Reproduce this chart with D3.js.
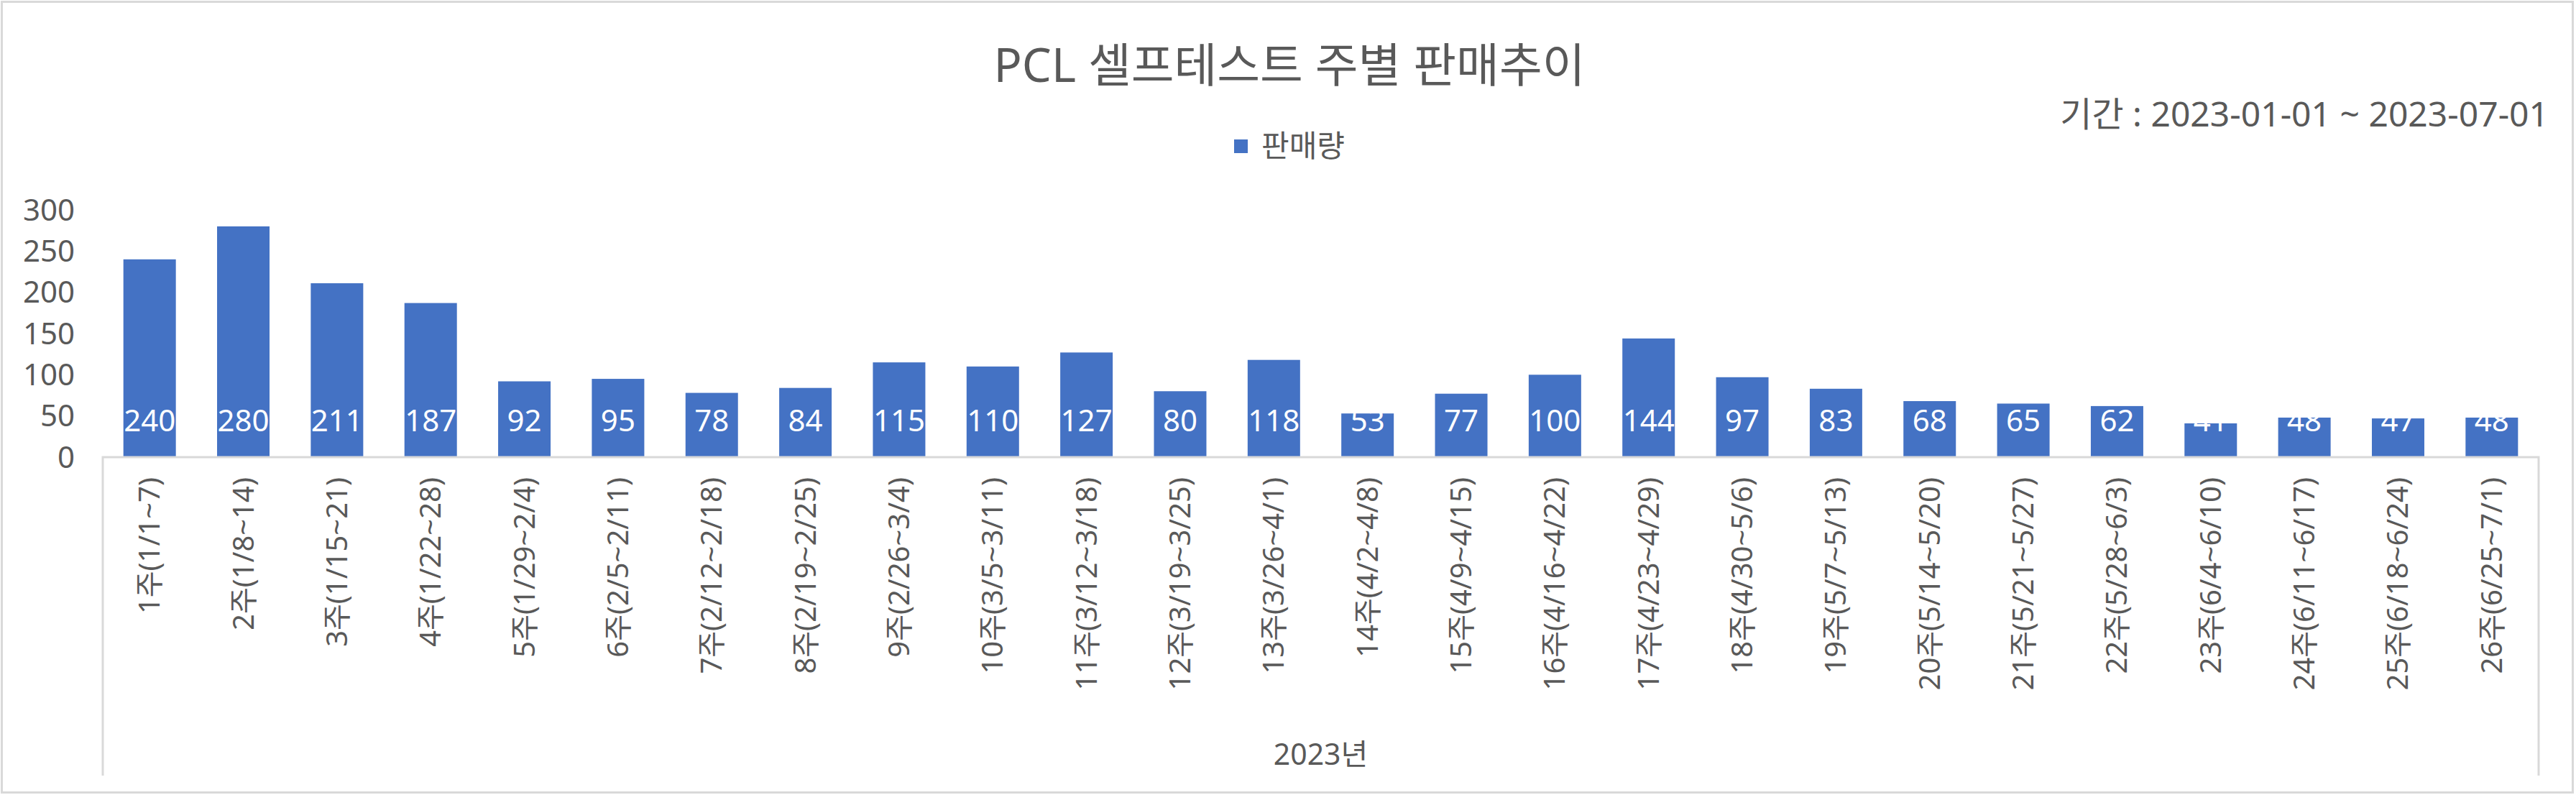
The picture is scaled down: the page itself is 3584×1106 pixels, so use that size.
<!DOCTYPE html>
<meta charset="utf-8">
<style>
  body { margin: 0; background: #fff; }
  text { font-family: "Noto Sans", "Noto Sans CJK KR", sans-serif; fill: #595959; }
</style>
<svg width="3584" height="1106"></svg>
<script src="https://d3js.org/d3.v7.min.js"></script>
<script>

    var weeks = ["1주(1/1~7)", "2주(1/8~14)", "3주(1/15~21)", "4주(1/22~28)", "5주(1/29~2/4)",
        "6주(2/5~2/11)", "7주(2/12~2/18)", "8주(2/19~2/25)", "9주(2/26~3/4)", "10주(3/5~3/11)",
        "11주(3/12~3/18)", "12주(3/19~3/25)", "13주(3/26~4/1)", "14주(4/2~4/8)", "15주(4/9~4/15)",
        "16주(4/16~4/22)", "17주(4/23~4/29)", "18주(4/30~5/6)", "19주(5/7~5/13)", "20주(5/14~5/20)",
        "21주(5/21~5/27)", "22주(5/28~6/3)", "23주(6/4~6/10)", "24주(6/11~6/17)", "25주(6/18~6/24)",
        "26주(6/25~7/1)"];
    var sales = [240, 280, 211, 187, 92, 95, 78, 84, 115, 110, 127, 80, 118, 53, 77, 100, 144, 97, 83,
        68, 65, 62, 41, 48, 47, 48];
    var yTicks = [0, 50, 100, 150, 200, 250, 300];
    var yearLabel = "2023년";
    var seriesName = "판매량";
    var title = "PCL 셀프테스트 주별 판매추이";
    var period = "기간 : 2023-01-01 ~ 2023-07-01";

    var svg = d3.select("svg"),
        plotLeft = 143, plotRight = 3532,
        plotTop = 292, plotBase = 636;

    // chart border
    svg.append("rect")
        .attr("x", 2.5).attr("y", 2.5)
        .attr("width", 3577).attr("height", 1100)
        .attr("fill", "#fff").attr("stroke", "#d9d9d9").attr("stroke-width", 3);

    var x = d3.scaleBand().domain(weeks).range([plotLeft, plotRight]).paddingInner(0.44).paddingOuter(0.22);
    var y = d3.scaleLinear().domain([0, 300]).range([plotBase, plotTop]);

    // title and subtitle
    svg.append("text").attr("x", 1794).attr("y", 114)
        .attr("text-anchor", "middle").style("font-size", "65px").text(title);
    svg.append("text").attr("x", 3546).attr("y", 176)
        .attr("text-anchor", "end").style("font-size", "48px").text(period);

    // legend
    svg.append("rect").attr("x", 1717).attr("y", 194).attr("width", 19).attr("height", 19).attr("fill", "#4472c4");
    svg.append("text").attr("x", 1755).attr("y", 218).style("font-size", "42px").text(seriesName);

    // y axis labels
    svg.append("g").selectAll("text").data(yTicks).join("text")
        .attr("x", 104).attr("y", function (d) { return y(d); })
        .attr("dy", "0.35em").attr("text-anchor", "end")
        .style("font-size", "42px").text(function (d) { return d; });

    // bars
    svg.append("g").selectAll("rect").data(sales).join("rect")
        .attr("x", function (d, i) { return x(weeks[i]); })
        .attr("y", function (d) { return y(d); })
        .attr("width", x.bandwidth())
        .attr("height", function (d) { return y(0) - y(d); })
        .attr("fill", "#4472c4");

    // data labels (white, inside base)
    svg.append("g").selectAll("text").data(sales).join("text")
        .attr("x", function (d, i) { return x(weeks[i]) + x.bandwidth() / 2; })
        .attr("y", y(0) - 51).attr("dy", "0.35em")
        .attr("text-anchor", "middle")
        .style("font-size", "42px").style("fill", "#fff")
        .text(function (d) { return d; });

    // category axis box
    var axisG = svg.append("g").attr("stroke", "#d9d9d9").attr("stroke-width", 3).attr("fill", "none");
    axisG.append("path").attr("d", "M" + plotLeft + "," + 1079 + "V" + plotBase + "H" + plotRight + "V" + 1079);

    // category labels, rotated
    svg.append("g").selectAll("text").data(weeks).join("text")
        .attr("transform", function (d) {
            return "translate(" + (x(d) + x.bandwidth() / 2) + "," + 664 + ") rotate(-90)";
        })
        .attr("dy", "0.35em").attr("text-anchor", "end")
        .style("font-size", "40px").text(function (d) { return d; });

    svg.append("text").attr("x", (plotLeft + plotRight) / 2).attr("y", 1064)
        .attr("text-anchor", "middle").style("font-size", "41px").text(yearLabel);

</script>
